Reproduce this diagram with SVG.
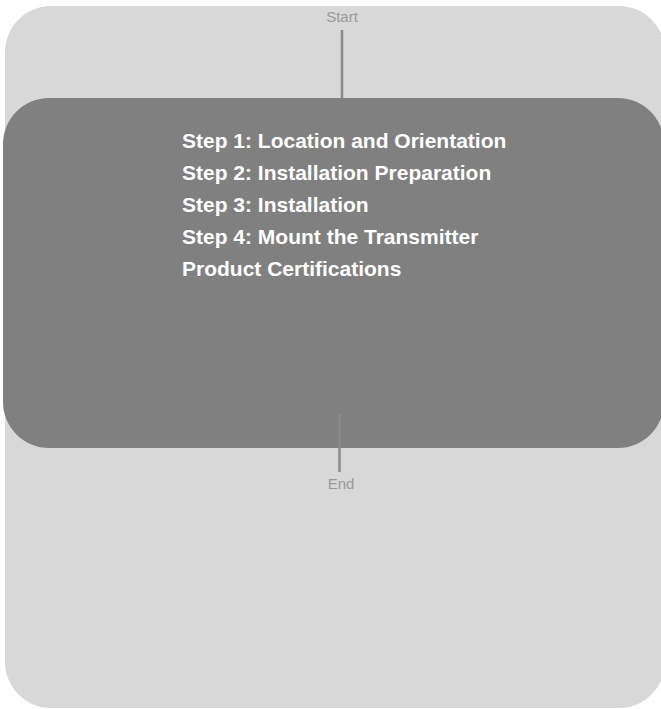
<svg xmlns="http://www.w3.org/2000/svg" width="661" height="709" viewBox="0 0 661 709">
<style>
.lbl{font-family:"Liberation Sans",Arial,sans-serif;font-size:15px;fill:#999999;text-anchor:middle}
.item{font-family:"Liberation Sans",Arial,sans-serif;font-size:21px;font-weight:bold;fill:#ffffff}
.conn{stroke:#8a8a8a;stroke-width:2.5;fill:none}
</style>
<rect width="661" height="709" fill="#ffffff"/>
<g id="container">
<rect x="5" y="6" width="660" height="702" rx="46" ry="46" fill="#d8d8d8"/>
</g>
<g id="main">
<rect x="3" y="98" width="661" height="350" rx="46" ry="46" fill="#808080"/>
<text class="item" x="182" y="147.5">Step 1: Location and Orientation</text>
<text class="item" x="182" y="179.5">Step 2: Installation Preparation</text>
<text class="item" x="182" y="211.5">Step 3: Installation</text>
<text class="item" x="182" y="243.5">Step 4: Mount the Transmitter</text>
<text class="item" x="182" y="275.5">Product Certifications</text>
</g>
<g id="start">
<text class="lbl" x="342" y="22">Start</text>
</g>
<g id="end">
<text class="lbl" x="341" y="489">End</text>
</g>
<g id="connectors">
<line class="conn" x1="342" y1="30" x2="342" y2="98"/>
<line class="conn" x1="339.5" y1="414" x2="339.5" y2="472"/>
</g>
</svg>
